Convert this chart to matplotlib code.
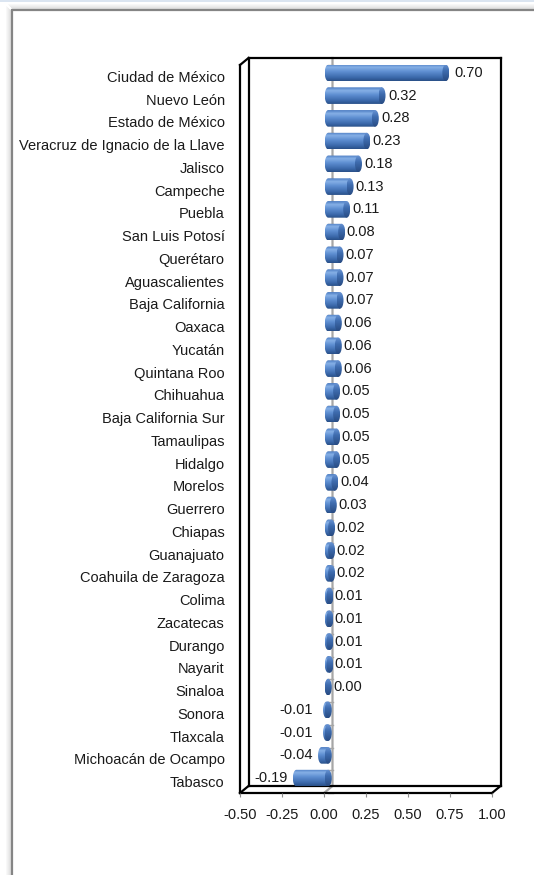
import numpy as np
import matplotlib.pyplot as plt
from matplotlib.patches import Ellipse, PathPatch, Rectangle
from matplotlib.path import Path
from matplotlib.colors import LinearSegmentedColormap

plt.rcParams['font.family'] = ['Liberation Sans', 'DejaVu Sans']

estados = [
    "Ciudad de México", "Nuevo León", "Estado de México",
    "Veracruz de Ignacio de la Llave", "Jalisco", "Campeche", "Puebla",
    "San Luis Potosí", "Querétaro", "Aguascalientes", "Baja California",
    "Oaxaca", "Yucatán", "Quintana Roo", "Chihuahua", "Baja California Sur",
    "Tamaulipas", "Hidalgo", "Morelos", "Guerrero", "Chiapas", "Guanajuato",
    "Coahuila de Zaragoza", "Colima", "Zacatecas", "Durango", "Nayarit",
    "Sinaloa", "Sonora", "Tlaxcala", "Michoacán de Ocampo", "Tabasco",
]
valores = [
    0.70, 0.32, 0.28, 0.23, 0.18, 0.13, 0.11, 0.08, 0.07, 0.07, 0.07,
    0.06, 0.06, 0.06, 0.05, 0.05, 0.05, 0.05, 0.04, 0.03, 0.02, 0.02,
    0.02, 0.01, 0.01, 0.01, 0.01, 0.00, -0.01, -0.01, -0.04, -0.19,
]
x_ticks = [-0.50, -0.25, 0.00, 0.25, 0.50, 0.75, 1.00]

W, H = 534, 875
fig = plt.figure(figsize=(W / 100, H / 100), dpi=100)

# plot box (front plane) in pixels and 3d depth offset
L, R, T, B = 240, 492, 65, 793
DX, DY = 8.5, -7
XMIN, XMAX = -0.5, 1.0
px_per_unit = (R - L) / (XMAX - XMIN)
zero_px = L + (0 - XMIN) * px_per_unit
n = len(estados)
row_px = (B - T) / n

# background layer drawn in pixel coordinates
bg = fig.add_axes([0, 0, 1, 1], zorder=0)
bg.set_xlim(0, W)
bg.set_ylim(H, 0)
bg.axis('off')

bg.add_patch(Rectangle((0, 0), W, 2, color='#dbe5f1', lw=0))
for k in range(1, 7):
    a = 0.16 * (1 - k / 7)
    bg.plot([11.5 - k, 11.5 - k], [9.5 - k + 2, H + 5], color='k', alpha=a, lw=0.8)
    bg.plot([11.5 - k + 2, W + 5], [9.5 - k, 9.5 - k], color='k', alpha=a, lw=0.8)
bg.plot([11.5, 11.5, W + 5], [H + 5, 9.5, 9.5], color='#858585', lw=1.6,
        solid_joinstyle='miter')

# gray value axis on the back wall plus its ticks
gx = zero_px + DX
bg.plot([gx, gx, zero_px], [T + DY, B + DY, B], color='#a6a6a6', lw=1.6, zorder=1)
for i in range(n + 1):
    yy = T + i * row_px
    bg.plot([gx - 5, gx], [yy, yy], color='#a6a6a6', lw=1.0, zorder=1)

# box edges
frame = [
    ((L, L), (T, B)),
    ((L + DX, L + DX), (T + DY, B + DY)),
    ((L, L + DX), (T, T + DY)),
    ((L + DX, R + DX), (T + DY, T + DY)),
    ((R + DX, R + DX), (T + DY, B + DY)),
    ((L, R), (B, B)),
    ((R, R + DX), (B, B + DY)),
    ((L + DX, R + DX), (B + DY, B + DY)),
    ((L, L + DX), (B, B + DY)),
]
for xs, ys in frame:
    bg.plot(xs, ys, color='black', lw=1.6, solid_capstyle='projecting', zorder=2)

ax = fig.add_axes([L / W, 1 - B / H, (R - L) / W, (B - T) / H], zorder=1)
ax.patch.set_alpha(0)
for s in ax.spines.values():
    s.set_visible(False)

body_cmap = LinearSegmentedColormap.from_list('body', [
    (0.0, '#4a7bc2'), (0.2, '#86b0e6'), (0.45, '#5f8fd2'),
    (0.8, '#3b69ab'), (1.0, '#2a5088')])
cap_cmap = LinearSegmentedColormap.from_list('cap', [
    (0.0, '#6a95d4'), (0.4, '#3f6db0'), (1.0, '#284b82')])
grad = np.linspace(0, 1, 64).reshape(-1, 1)

dx = (DX / 2) / px_per_unit
dy = (DY / 2) / row_px
a = 3.5 / px_per_unit
h = 0.365

for i, v in enumerate(valores):
    yc = i + dy
    lo = min(0, v) + dx
    hi = max(0, v) + dx
    t = np.linspace(np.pi / 2, 3 * np.pi / 2, 30)
    verts = [(hi, yc - h), (lo, yc - h)]
    verts += [(lo + a * np.cos(tt), yc - h * np.sin(tt)) for tt in t]
    verts += [(lo, yc + h), (hi, yc + h), (hi, yc - h)]
    body = PathPatch(Path(verts, closed=True), fc='none', ec='none')
    ax.add_patch(body)
    im = ax.imshow(grad, cmap=body_cmap, aspect='auto', origin='upper',
                   extent=(lo - a, hi, yc + h, yc - h), zorder=2)
    im.set_clip_path(body)

    cap = Ellipse((hi, yc), 2 * a, 2 * h, fc='none', ec='none')
    ax.add_patch(cap)
    im2 = ax.imshow(grad, cmap=cap_cmap, aspect='auto', origin='upper',
                    extent=(hi - a, hi + a, yc + h, yc - h), zorder=3)
    im2.set_clip_path(cap)

    txt = f"{v:.2f}"
    if v >= 0:
        ax.annotate(txt, xy=(v * 1.03, yc), xytext=(9 * 0.72, 0),
                    textcoords='offset points', ha='left', va='center',
                    fontsize=10.5, color='#1a1a1a')
    else:
        ax.annotate(txt, xy=(min(v, -0.04), yc), xytext=(-4 * 0.72, 0),
                    textcoords='offset points', ha='right', va='center',
                    fontsize=10.5, color='#1a1a1a')

ax.set_xlim(XMIN, XMAX)
ax.set_ylim(n - 0.5, -0.5)
ax.set_xticks(x_ticks)
ax.set_xticklabels([f"{x:.2f}" for x in x_ticks])
ax.tick_params(axis='x', direction='out', length=3, width=0.8, color='#8c8c8c',
               labelsize=10.5, labelcolor='#1a1a1a', pad=7.5)
ax.set_yticks(range(n))
ax.set_yticklabels(estados)
ax.tick_params(axis='y', length=0, pad=11, labelsize=10.5, labelcolor='#1a1a1a')

fig.savefig('out.png', dpi=100)
